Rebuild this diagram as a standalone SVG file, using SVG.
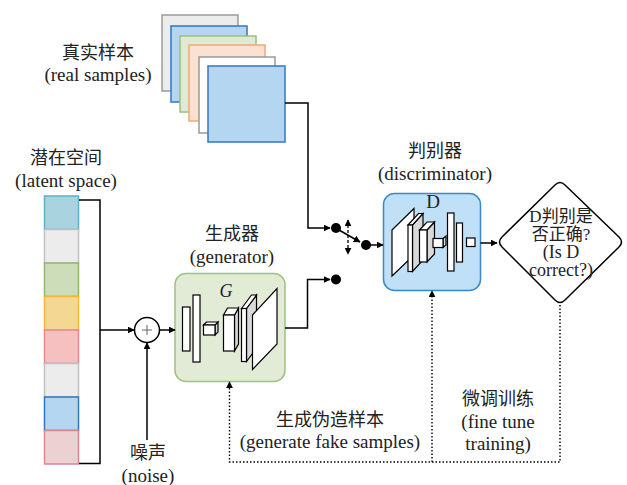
<svg xmlns="http://www.w3.org/2000/svg" width="627" height="485" viewBox="0 0 627 485">
<defs>
<marker id="ah" viewBox="0 0 10 10" refX="9" refY="5" markerWidth="7" markerHeight="7" markerUnits="userSpaceOnUse" orient="auto-start-reverse">
<path d="M0,0 L10,5 L0,10 Z" fill="#000"/>
</marker>
<style>
.zh{font-family:"Noto Sans CJK SC",sans-serif;font-size:18px;fill:#222;text-anchor:middle}
.en{font-family:"Liberation Serif","Times New Roman",serif;font-size:19px;fill:#222;text-anchor:middle}
.dz{font-family:"Liberation Serif","Noto Sans CJK SC",serif;font-size:17px;fill:#222;text-anchor:middle}
.de{font-family:"Liberation Serif","Times New Roman",serif;font-size:18px;fill:#222;text-anchor:middle}
.ln{fill:none;stroke:#000;stroke-width:1.5}
.dot{fill:none;stroke:#000;stroke-width:1.4;stroke-dasharray:1.5 2}
.wb{fill:#fff;stroke:#000;stroke-width:1.2}
.gb{fill:#d9d9d9;stroke:#000;stroke-width:1.2}
</style>
</defs>
<rect width="627" height="485" fill="#fff"/>

<g id="real-samples">
<rect x="162" y="15" width="76" height="76" fill="#ececec" stroke="#9a9a9a" stroke-width="1.5"/>
<rect x="171" y="26" width="76" height="76" fill="#b4d6f0" stroke="#2f78c0" stroke-width="1.5"/>
<rect x="180" y="36" width="76" height="76" fill="#e0e9d3" stroke="#9cc07c" stroke-width="1.5"/>
<rect x="189" y="45" width="76" height="76" fill="#fbe1d2" stroke="#f2a878" stroke-width="1.5"/>
<rect x="199" y="57" width="76" height="76" fill="#fff" stroke="#9a9a9a" stroke-width="1.5"/>
<rect x="208" y="66" width="77" height="76" fill="#b4d6f0" stroke="#2f78c0" stroke-width="1.5"/>
<text class="zh" x="98" y="59">真实样本</text>
<text class="en" x="98" y="81">(real samples)</text>
</g>

<g id="latent-space">
<rect x="44.5" y="196" width="34" height="33.5" fill="#a9d4df" stroke="#5bb0c8" stroke-width="1.5"/>
<rect x="44.5" y="229.5" width="34" height="33.5" fill="#ececec" stroke="#c0c0c0" stroke-width="1.5"/>
<rect x="44.5" y="263" width="34" height="33.5" fill="#cddcb9" stroke="#8fba6a" stroke-width="1.5"/>
<rect x="44.5" y="296.5" width="34" height="33.5" fill="#f5d794" stroke="#f0b93a" stroke-width="1.5"/>
<rect x="44.5" y="330" width="34" height="33.5" fill="#f7c0c0" stroke="#e08a8a" stroke-width="1.5"/>
<rect x="44.5" y="363.5" width="34" height="33.5" fill="#ececec" stroke="#c0c0c0" stroke-width="1.5"/>
<rect x="44.5" y="397" width="34" height="33.5" fill="#b4d6f0" stroke="#2f78c0" stroke-width="1.5"/>
<rect x="44.5" y="430.5" width="34" height="33.5" fill="#ecd0d2" stroke="#d08b8f" stroke-width="1.5"/>
<text class="zh" x="66" y="164">潜在空间</text>
<text class="en" x="66" y="187">(latent space)</text>
</g>

<g id="adder">
<circle cx="147" cy="330" r="12.5" fill="#fff" stroke="#000" stroke-width="1.5"/>
<path d="M142,330 H152 M147,325 V335" stroke="#666" stroke-width="1"/>
</g>

<g id="noise">
<text class="zh" x="148" y="459">噪声</text>
<text class="en" x="148" y="482">(noise)</text>
</g>

<g id="generator">
<rect x="175" y="273.5" width="110" height="108" rx="11" fill="#e2ebd6" stroke="#9fc27f" stroke-width="1.5"/>
<text class="zh" x="232" y="240">生成器</text>
<text class="en" x="232" y="263">(generator)</text>
<text x="226" y="297" font-family="Liberation Serif,serif" font-style="italic" font-size="18" text-anchor="middle" fill="#222">G</text>
<rect class="wb" x="182.5" y="307" width="7.5" height="44"/>
<rect class="wb" x="193" y="295" width="7" height="67"/>
<path class="gb" d="M215,325 L218,322 V332 L215,335 Z"/>
<path class="wb" d="M203.5,325 L206.5,322 H218 L215,325 Z"/>
<rect class="wb" x="203.5" y="325" width="11.5" height="10"/>
<path class="gb" d="M234.5,315 L238.5,308 V344 L234.5,351 Z"/>
<path class="wb" d="M223.5,315 L227.5,308 H238.5 L234.5,315 Z"/>
<rect class="wb" x="223.5" y="315" width="11" height="36"/>
<path class="gb" d="M246.5,308.5 L256.5,295 V348 L246.5,361.5 Z"/>
<path class="wb" d="M241.5,308.5 L251.5,295 H256.5 L246.5,308.5 Z"/>
<rect class="wb" x="241.5" y="308.5" width="5" height="53"/>
<path class="wb" d="M252.5,315 L277,288.5 V344 L252.5,369.5 Z"/>
</g>

<g id="discriminator">
<rect x="383.5" y="193.5" width="97" height="97" rx="11" fill="#bfe0f6" stroke="#3c88c8" stroke-width="1.5"/>
<text class="zh" x="435" y="157">判别器</text>
<text class="en" x="435" y="180">(discriminator)</text>
<text class="en" x="433" y="208">D</text>
<path class="wb" d="M392,230 L414,208.5 V255 L392,276 Z"/>
<path class="gb" d="M412.5,225 L423,213.5 V260 L412.5,271.5 Z"/>
<path class="wb" d="M408,225 L418.5,213.5 H423 L412.5,225 Z"/>
<rect class="wb" x="408" y="225" width="4.5" height="46.5"/>
<path class="gb" d="M427,230 L434.5,222 V254 L427,262 Z"/>
<path class="wb" d="M419.5,230 L427,222 H434.5 L427,230 Z"/>
<rect class="wb" x="419.5" y="230" width="7.5" height="32"/>
<path class="gb" d="M443,238.5 L446,236 V245 L443,247.5 Z"/>
<rect class="wb" x="433" y="238.5" width="10" height="9"/>
<rect class="wb" x="447.5" y="213" width="6.5" height="58"/>
<rect class="wb" x="456.5" y="223" width="6" height="39"/>
<rect class="wb" x="466.5" y="238" width="8.5" height="8.5"/>
</g>

<g id="decision">
<path d="M502,237 L555,185 Q560,180 565,185 L619,237 Q624,242 619,247 L565,300 Q560,305 555,300 L502,247 Q497,242 502,237 Z" fill="#fff" stroke="#000" stroke-width="1.5"/>
<text class="dz" x="561" y="222">D判别是</text>
<text class="dz" x="561" y="240">否正确?</text>
<text class="de" x="561" y="258">(Is D</text>
<text class="de" x="561" y="276">correct?)</text>
</g>

<g id="switch">
<circle cx="336" cy="228" r="5" fill="#000"/>
<circle cx="366" cy="245" r="5" fill="#000"/>
<circle cx="336" cy="279.5" r="5" fill="#000"/>
</g>

<g id="labels">
<text class="zh" x="330" y="426">生成伪造样本</text>
<text class="en" x="330" y="448">(generate fake samples)</text>
<text class="zh" x="498" y="405">微调训练</text>
<text class="en" x="498" y="428">(fine tune</text>
<text class="en" x="498" y="450">training)</text>
</g>

<g id="connectors">
<path class="ln" d="M285,103 H308 V228 H330" marker-end="url(#ah)"/>
<path class="ln" d="M285,328 H307.5 V279.5 H330" marker-end="url(#ah)"/>
<path class="ln" d="M339,230 L360,242" marker-end="url(#ah)"/>
<path class="ln" d="M366,245 H383" marker-end="url(#ah)"/>
<path d="M348,220 V254" fill="none" stroke="#000" stroke-width="1.3" stroke-dasharray="3 2" marker-start="url(#ah)" marker-end="url(#ah)"/>
<path class="ln" d="M480.5,243 H497" marker-end="url(#ah)"/>
<path class="ln" d="M79,200 H100 V463.5 H79"/>
<path class="ln" d="M100,330 H134" marker-end="url(#ah)"/>
<path class="ln" d="M159.5,330 H175" marker-end="url(#ah)"/>
<path class="ln" d="M147,440 V343" marker-end="url(#ah)"/>
<path class="dot" d="M560,305 V462 H229.5 V382"  marker-end="url(#ah)"/>
<path class="dot" d="M432,462 V291" marker-end="url(#ah)"/>
</g>
</svg>
